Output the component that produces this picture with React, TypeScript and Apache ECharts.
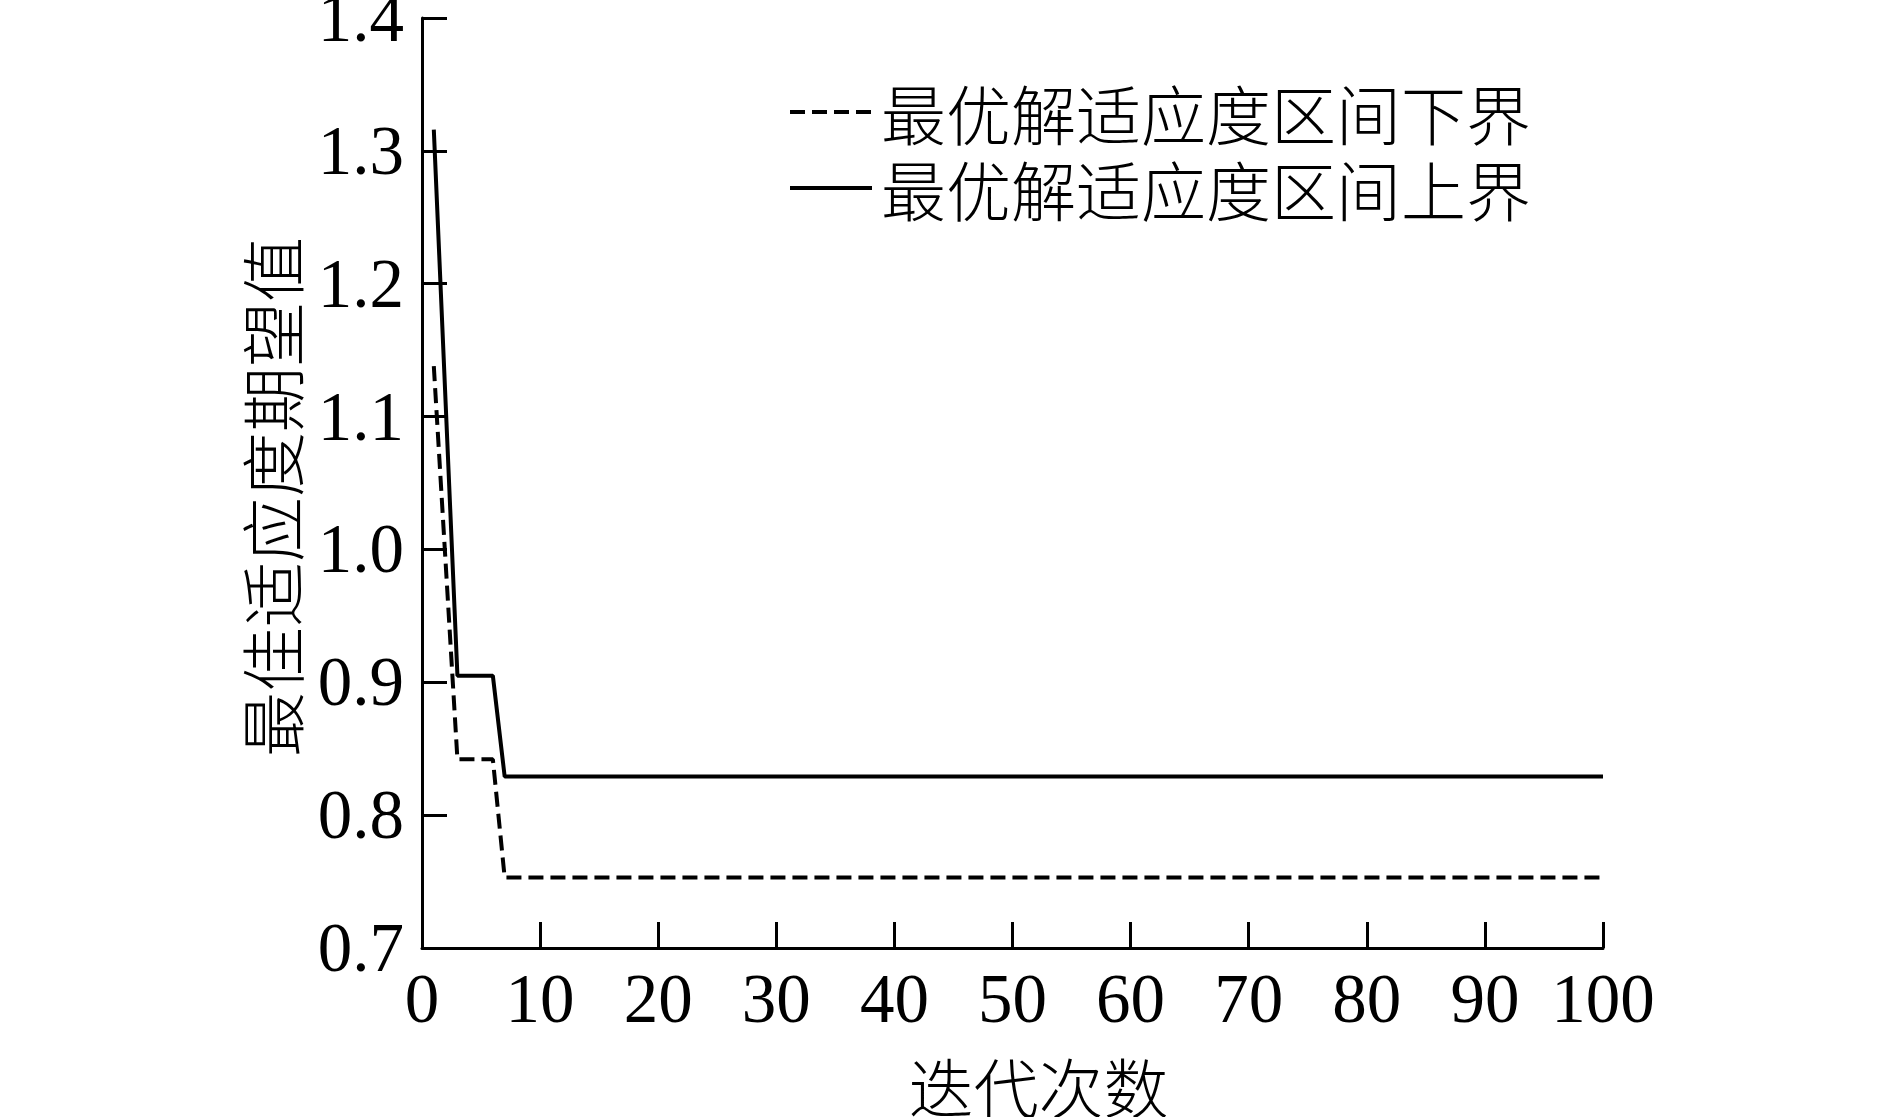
import React, { useEffect, useRef } from "react";
import * as echarts from "echarts";

const lowerX = [1, 3, 6, 7, 100];
const lowerY = [1.138, 0.842, 0.842, 0.753, 0.753];
const upperX = [1, 3, 6, 7, 100];
const upperY = [1.316, 0.905, 0.905, 0.829, 0.829];
const seriesNames = ["最优解适应度区间下界", "最优解适应度区间上界"];
const xAxisName = "迭代次数";
const yAxisName = "最佳适应度期望值";

const NUM_FONT = "'Liberation Serif', 'Times New Roman', serif";
const CJK_FONT = "'Noto Sans CJK SC', sans-serif";

export default function App() {
  const ref = useRef<HTMLDivElement>(null);
  useEffect(() => {
    document.body.style.margin = "0";
    const chart = echarts.init(ref.current!, null, { renderer: "svg" });
    const lower = lowerX.map((x, i) => [x, lowerY[i]]);
    const upper = upperX.map((x, i) => [x, upperY[i]]);
    chart.setOption({
      animation: false,
      backgroundColor: "#ffffff",
      grid: {
        left: 422,
        top: 18,
        width: 1181,
        height: 930,
        containLabel: false,
        outerBoundsMode: "none",
      },
      legend: {
        orient: "vertical",
        left: 783,
        top: 74,
        itemWidth: 82,
        itemHeight: 20,
        itemGap: 10,
        data: seriesNames,
        itemStyle: { color: "rgba(0,0,0,0)", borderWidth: 0, opacity: 0 },
        lineStyle: { width: 4 },
        textStyle: {
          fontFamily: CJK_FONT,
          fontSize: 65,
          lineHeight: 66,
          color: "#000",
          fontWeight: 300,
          padding: [0, 0, 0, 4],
        },
      },
      xAxis: {
        type: "value",
        min: 0,
        max: 100,
        interval: 10,
        name: xAxisName,
        nameLocation: "middle",
        nameGap: 106,
        nameTextStyle: {
          fontFamily: CJK_FONT,
          fontSize: 65,
          lineHeight: 62,
          color: "#000",
          fontWeight: 300,
          padding: [0, 0, 0, 52],
        },
        axisLine: { show: true, onZero: false, lineStyle: { color: "#000", width: 3 } },
        axisTick: { show: true, inside: true, length: 26, lineStyle: { color: "#000", width: 3 } },
        axisLabel: { fontFamily: NUM_FONT, fontSize: 69, color: "#000", margin: 16 },
        splitLine: { show: false },
      },
      yAxis: {
        type: "value",
        min: 0.7,
        max: 1.4,
        interval: 0.1,
        name: yAxisName,
        nameLocation: "middle",
        nameGap: 120,
        nameRotate: 90,
        nameTextStyle: { fontFamily: CJK_FONT, fontSize: 65, color: "#000", fontWeight: 300, padding: [0, 28, 0, 0] },
        axisLine: { show: true, lineStyle: { color: "#000", width: 3 } },
        axisTick: { show: true, inside: true, length: 25, lineStyle: { color: "#000", width: 3 } },
        axisLabel: {
          fontFamily: NUM_FONT,
          fontSize: 69,
          color: "#000",
          margin: 18,
          formatter: (v: number) => v.toFixed(1),
        },
        splitLine: { show: false },
      },
      series: [
        {
          name: seriesNames[0],
          type: "line",
          data: lower,
          symbol: "none",
          lineStyle: { color: "#000", width: 4, type: [15, 7] },
          itemStyle: { color: "#000" },
        },
        {
          name: seriesNames[1],
          type: "line",
          data: upper,
          symbol: "none",
          lineStyle: { color: "#000", width: 4, type: "solid" },
          itemStyle: { color: "#000" },
        },
      ],
    });
    return () => chart.dispose();
  }, []);
  return <div ref={ref} style={{ width: 1889, height: 1117 }} />;
}
